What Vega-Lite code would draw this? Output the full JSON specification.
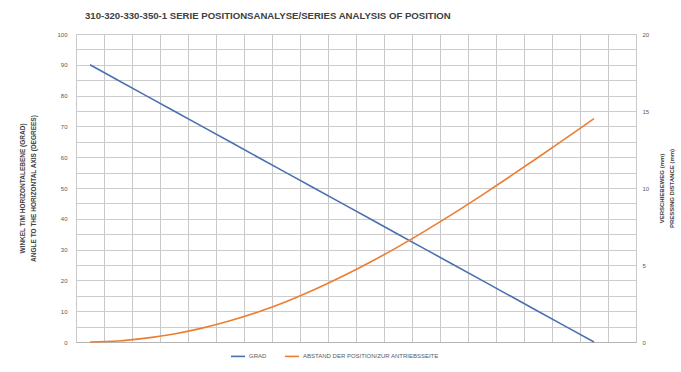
{
  "$schema": "https://vega.github.io/schema/vega-lite/v6.json",
  "width": 560,
  "height": 308,
  "autosize": {"type": "none"},
  "padding": {"left": 76, "top": 34, "right": 45, "bottom": 30},
  "background": "white",
  "config": {
    "font": "Liberation Sans",
    "view": {"stroke": "#cccccc", "strokeWidth": 1},
    "axis": {"labelFont": "Liberation Sans", "titleFont": "Liberation Sans"}
  },
  "title": {
    "text": "310-320-330-350-1 SERIE POSITIONSANALYSE/SERIES ANALYSIS OF POSITION",
    "font": "Liberation Sans Narrow, Liberation Sans",
    "fontSize": 9.6,
    "fontWeight": "bold",
    "color": "#404040",
    "anchor": "start",
    "frame": "group",
    "dx": 9,
    "offset": 10
  },
  "data": {
    "values": [
      {"pos": 0.5, "angle": 90, "dist": 0},
      {"pos": 1.5, "angle": 85, "dist": 0.06},
      {"pos": 2.5, "angle": 80, "dist": 0.25},
      {"pos": 3.5, "angle": 75, "dist": 0.52},
      {"pos": 4.5, "angle": 70, "dist": 0.9},
      {"pos": 5.5, "angle": 65, "dist": 1.38},
      {"pos": 6.5, "angle": 60, "dist": 1.95},
      {"pos": 7.5, "angle": 55, "dist": 2.62},
      {"pos": 8.5, "angle": 50, "dist": 3.39},
      {"pos": 9.5, "angle": 45, "dist": 4.25},
      {"pos": 10.5, "angle": 40, "dist": 5.18},
      {"pos": 11.5, "angle": 35, "dist": 6.18},
      {"pos": 12.5, "angle": 30, "dist": 7.25},
      {"pos": 13.5, "angle": 25, "dist": 8.37},
      {"pos": 14.5, "angle": 20, "dist": 9.54},
      {"pos": 15.5, "angle": 15, "dist": 10.75},
      {"pos": 16.5, "angle": 10, "dist": 11.98},
      {"pos": 17.5, "angle": 5, "dist": 13.24},
      {"pos": 18.5, "angle": 0, "dist": 14.5}
    ]
  },
  "encoding": {
    "x": {
      "field": "pos",
      "type": "quantitative",
      "scale": {"domain": [0, 20], "nice": false, "zero": false},
      "axis": {
        "values": [0,1,2,3,4,5,6,7,8,9,10,11,12,13,14,15,16,17,18,19,20],
        "labels": false,
        "ticks": false,
        "domain": true,
        "domainColor": "#b5b5b5",
        "title": null,
        "grid": true,
        "gridColor": "#c8c8c8",
        "gridWidth": 1
      }
    }
  },
  "layer": [
    {
      "mark": {"type": "line", "strokeWidth": 1.6},
      "encoding": {
        "y": {
          "field": "angle",
          "type": "quantitative",
          "scale": {"domain": [0, 100], "nice": false},
          "axis": {
            "orient": "left",
            "values": [0,5,10,15,20,25,30,35,40,45,50,55,60,65,70,75,80,85,90,95,100],
            "labelExpr": "datum.value % 10 == 0 ? datum.label : ''",
            "labelFontSize": 6,
            "labelColor": "#595959",
            "labelPadding": 9,
            "ticks": false,
            "domain": false,
            "grid": true,
            "gridColor": "#cccccc",
            "title": ["WINKEL T/M HORIZONTALEBENE (GRAD)", "ANGLE TO THE HORIZONTAL AXIS (DEGREES)"],
            "titleFontSize": 6.5,
            "titleFontWeight": "bold",
            "titleColor": "#404040",
            "titlePadding": 20,
            "titleAngle": -90,
            "titleLineHeight": 11
          }
        },
        "color": {
          "datum": "GRAD",
          "type": "nominal",
          "scale": {"domain": ["GRAD", "ABSTAND DER POSITION/ZUR ANTRIEBSSEITE"], "range": ["#4a72b0", "#ed7d31"]},
          "legend": {
            "orient": "none",
            "legendX": 154,
            "legendY": 314,
            "direction": "horizontal",
            "title": null,
            "symbolType": "stroke",
            "symbolSize": 200,
            "symbolStrokeWidth": 1.6,
            "labelFontSize": 6,
            "labelColor": "#595959",
            "columnPadding": 14,
            "labelOffset": 3
          }
        }
      }
    },
    {
      "mark": {"type": "line", "strokeWidth": 1.6, "interpolate": "monotone"},
      "encoding": {
        "y": {
          "field": "dist",
          "type": "quantitative",
          "scale": {"domain": [0, 20], "nice": false},
          "axis": {
            "orient": "right",
            "values": [0, 5, 10, 15, 20],
            "labelFontSize": 6,
            "labelColor": "#595959",
            "labelPadding": 6,
            "ticks": false,
            "domain": false,
            "grid": false,
            "title": ["VERSCHIEBEWEG (mm)", "PRESSING DISTANCE (mm)"],
            "titleFontSize": 6,
            "titleFontWeight": "bold",
            "titleColor": "#404040",
            "titlePadding": 6,
            "titleAngle": -90,
            "titleLineHeight": 10
          }
        },
        "color": {"datum": "ABSTAND DER POSITION/ZUR ANTRIEBSSEITE", "type": "nominal"}
      }
    }
  ],
  "resolve": {"scale": {"y": "independent"}}
}
